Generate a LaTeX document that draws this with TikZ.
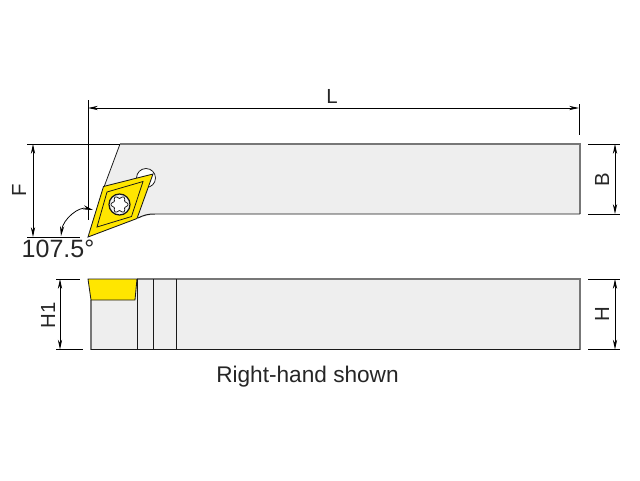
\documentclass[tikz,border=0pt]{standalone}
\usepackage{fontspec}
\setmainfont{Liberation Sans}
\usetikzlibrary{calc}
\usetikzlibrary{arrows.meta}
\definecolor{bodygray}{HTML}{EEEEEE}
\definecolor{edgegray}{HTML}{777777}
\definecolor{insertyellow}{HTML}{FFE600}
\tikzset{
	dimline/.style={line width=0.55pt,black},
	dimarrow/.style={dimline,{Stealth[length=7pt,width=3pt]}-{Stealth[length=7pt,width=3pt]}},
	dimlabel/.style={font=\fontsize{14.5}{16}\selectfont,text=black!85},
	outline/.style={line width=0.55pt,black!90}
}
\begin{document}
\begin{tikzpicture}[x=0.25mm,y=-0.25mm]
	\useasboundingbox (0,0) rectangle (640,480);
	% holder, top view
	\coordinate (TL) at (120,144);
	\coordinate (TR) at (580,144);
	\coordinate (BR) at (580,214);
	\coordinate (BL) at (155,214);
	\fill[bodygray] (TL) -- (TR) -- (BR) -- (BL) -- (139,218) -- (104,187) -- cycle;
	\draw[outline] (TL) -- (104,187);
	\draw[line width=0.9pt,edgegray] (TL) -- (TR) -- (BR);
	\draw[outline,line width=0.7pt] (BR) -- (BL) .. controls (148,214) and (144,215) .. (138,218);
	% screw hole behind the insert
	\draw[outline,fill=white] (146,178) circle (9.5);
	% insert
	\coordinate (P1) at (88,237);
	\coordinate (P2) at (103.5,186.5);
	\coordinate (P3) at (153,174);
	\coordinate (P4) at (137,218.5);
	\coordinate (oo) at (119.5,204.5);
	\draw[outline,fill=insertyellow,line width=0.6pt] (P1) -- (P2) -- (P3) -- (P4) -- cycle;
	\draw[outline] (107,192) -- (143,181.5) -- (131.5,216.5) -- (97,227) -- cycle;
	\draw[outline,line width=0.9pt,fill=bodygray!60] (oo) circle (10.5);
	\draw[outline,fill=white,domain=0:360,samples=120,smooth] plot ({119.5+(7.3+1.2*cos(6*\x))*cos(\x)},{204.5+(7.3+1.2*cos(6*\x))*sin(\x)}) -- cycle;
	% holder, side view
	\coordinate (SL) at (91,279);
	\coordinate (SR) at (580,279);
	\coordinate (SB) at (580,349.5);
	\coordinate (SA) at (91,349.5);
	\fill[bodygray] (SL) -- (SR) -- (SB) -- (SA) -- cycle;
	\draw[line width=0.9pt,edgegray] (91,300) -- (SA);
	\draw[line width=0.9pt,edgegray] (137,279) -- (SR) -- (SB);
	\draw[outline,line width=0.7pt] (SB) -- (SA);
	\foreach \X in {137,153,176.5}
		\draw[outline] (\X,279) -- (\X,349.5);
	\draw[outline,fill=insertyellow,line width=0.6pt] (88,279) -- (137,279) -- (135,300) -- (91,300) -- cycle;
	% L
	\draw[dimline] (88,100) -- (88,220);
	\draw[dimline] (579,104) -- (579,135);
	\draw[dimarrow] (88,108) -- (579,108);
	\node[dimlabel] (labL) at (332,96) {L};
	% F
	\draw[dimline] (27,144) -- (TL);
	\draw[dimline] (27,237) -- (80,237);
	\draw[dimarrow] (33,144) -- (33,237);
	\node[dimlabel,rotate=90] (labF) at (19,190) {F};
	% B
	\draw[dimline] (588,144) -- (620,144);
	\draw[dimline] (588,214) -- (620,214);
	\draw[dimarrow] (615,144) -- (615,214);
	\node[dimlabel,rotate=90] (labB) at (602,180) {B};
	% H
	\draw[dimline] (588,279) -- (620,279);
	\draw[dimline] (588,349.5) -- (620,349.5);
	\draw[dimarrow] (615,279) -- (615,349.5);
	\node[dimlabel,rotate=90] (labH) at (602,314) {H};
	% H1
	\draw[dimline] (56,279) -- (80,279);
	\draw[dimline] (56,349.5) -- (83,349.5);
	\draw[dimarrow] (60,279) -- (60,349.5);
	\node[dimlabel,rotate=90] (labHa) at (48,315) {H1};
	% angle
	\draw[dimarrow] (61,236) .. controls (63,219) and (79,206) .. (93,210);
	\node[font=\fontsize{17.8}{19}\selectfont,text=black!85] (labA) at (58,249) {107.5°};
	\node[font=\fontsize{16.1}{18}\selectfont,text=black!85] (labR) at (307.5,376.5) {Right-hand shown};
\end{tikzpicture}
\end{document}
